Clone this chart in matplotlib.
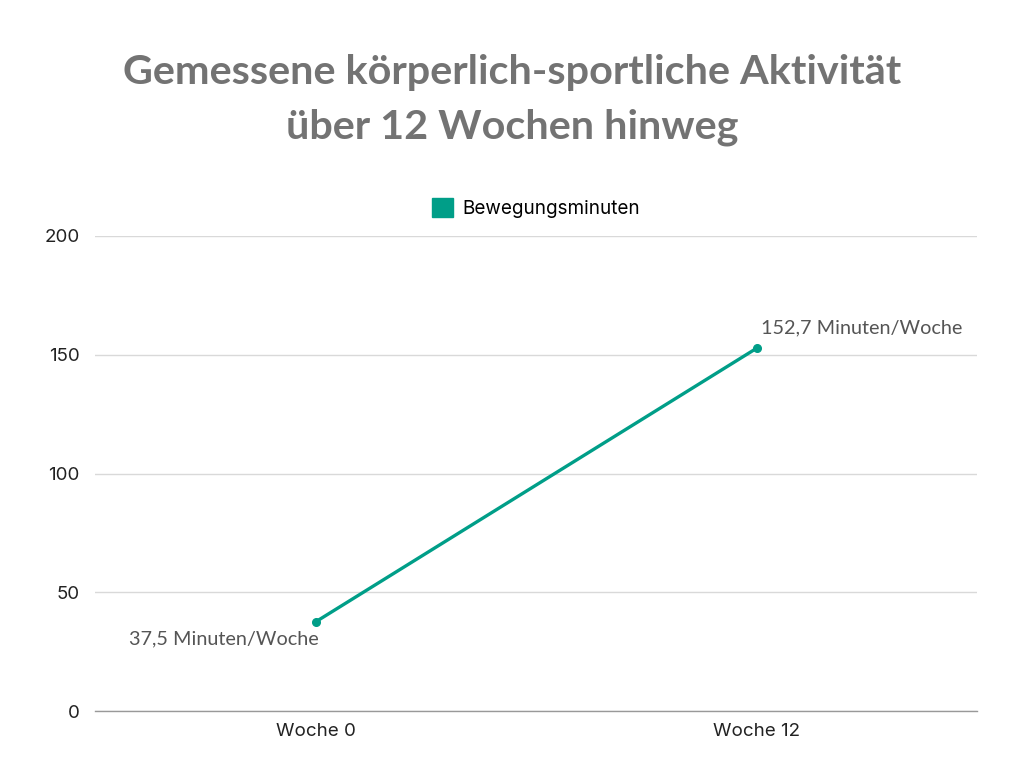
import matplotlib
matplotlib.use("Agg")
import matplotlib.pyplot as plt
from matplotlib.patches import Patch

categories = ["Woche 0", "Woche 12"]
values = [37.5, 152.7]
labels = ["37,5 Minuten/Woche", "152,7 Minuten/Woche"]
series_name = "Bewegungsminuten"
yticks = [0, 50, 100, 150, 200]

teal = "#009E88"
fig = plt.figure(figsize=(10.24, 7.68), dpi=100)
ax = fig.add_axes([95/1024, 1-711/768, 882/1024, 475/768])

x = list(range(len(categories)))
ax.plot(x, values, color=teal, lw=2.4, marker="o", ms=5.5, zorder=3)
ax.set_xlim(-0.5, len(categories)-0.5)
ax.set_ylim(0, 200)
ax.set_yticks(yticks)
ax.set_yticklabels([str(t) for t in yticks])
ax.set_xticks(x)
ax.set_xticklabels(categories)
ax.grid(axis="y", color="#d9d9d9", lw=1)
ax.set_axisbelow(True)
for s in ["top", "right", "left"]:
    ax.spines[s].set_visible(False)
ax.spines["bottom"].set_color("#999999")
ax.spines["bottom"].set_linewidth(1)
ax.tick_params(length=0, labelsize=13.5, labelcolor="#222222")
ax.tick_params(axis="y", pad=11)
ax.tick_params(axis="x", pad=9)
for lab in ax.get_xticklabels() + ax.get_yticklabels():
    lab.set_family("Inter")

ax.annotate(labels[0], (x[0], values[0]), xytext=(2, -12), textcoords="offset points",
            ha="right", va="center", fontsize=14.3, color="#555555", family="Lato")
ax.annotate(labels[1], (x[1], values[1]), xytext=(3, 15), textcoords="offset points",
            ha="left", va="center", fontsize=14.3, color="#555555", family="Lato")

fig.text(0.5, 1-100/768, "Gemessene körperlich-sportliche Aktivität\nüber 12 Wochen hinweg",
         ha="center", va="center", fontsize=29.8, fontweight="bold", color="#737373",
         family="Lato", linespacing=1.58)

fig.legend(handles=[Patch(facecolor=teal, edgecolor=teal)], labels=[series_name],
           loc="center", bbox_to_anchor=(536/1024, 1-208/768), frameon=False,
           handlelength=1.15, handleheight=1.15, handletextpad=0.5,
           prop={"family": "Inter", "size": 13.6})

fig.savefig("out.png", dpi=100)
